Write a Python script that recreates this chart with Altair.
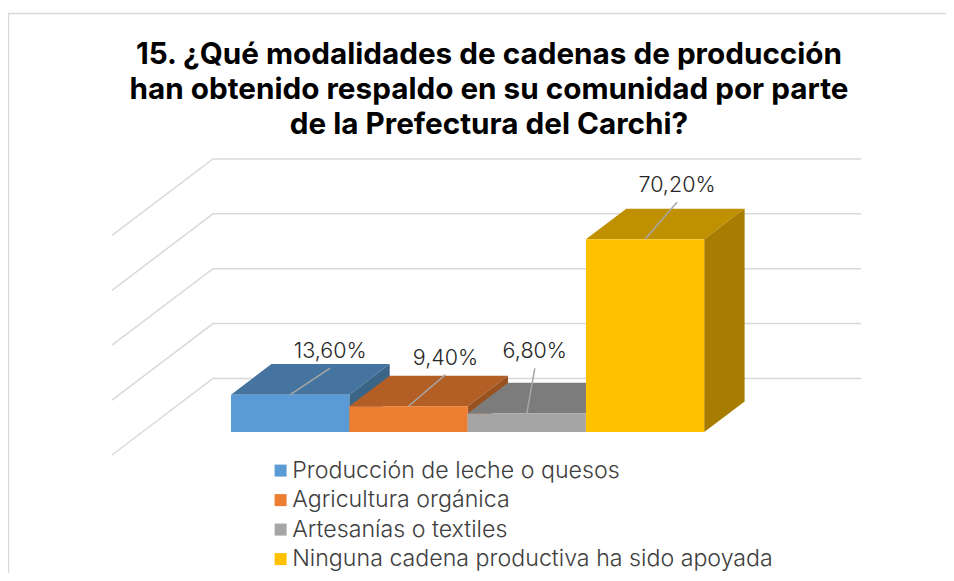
import altair as alt
import pandas as pd

categories = ["Producción de leche o quesos", "Agricultura orgánica", "Artesanías o textiles",
              "Ninguna cadena productiva ha sido apoyada"]
values = [13.6, 9.4, 6.8, 70.2]
front_colors = ["#5B9BD5", "#ED7D31", "#A5A5A5", "#FFC000"]
top_colors = ["#44749F", "#B25E25", "#7C7C7C", "#BF9000"]
side_colors = ["#3B6587", "#9A5120", "#6B6B6B", "#A67D00"]
grid_values = [0, 20, 40, 60, 80]
title_lines = ["15. ¿Qué modalidades de cadenas de producción",
               "han obtenido respaldo en su comunidad por parte",
               "de la Prefectura del Carchi?"]
# leader-line offsets from the bar's top edge (category units, value units)
lead_dx = [0.338, 0.313, 0.068, 0.27]
lead_dy = [9.65, 11.5, 16.4, 13.5]

FONT = "Inter"
W, H = 938, 565
# oblique projection of depth z (0 front of floor, 1 back wall)
ZX, ZY = 0.8538, 27.87
Z0, Z1 = 0.3, 0.7
WALL_L, WALL_R = -0.75, 4.728


def px(x, z):
    return x + z * ZX


def py(v, z):
    return v + z * ZY


xs = alt.Scale(domain=[-1.629, 6.3], nice=False, zero=False)
ys = alt.Scale(domain=[-42.99, 162.84], nice=False, zero=False)
X = alt.X("x:Q", scale=xs, axis=None)
Y = alt.Y("y:Q", scale=ys, axis=None)

# frame
frame = [
    alt.Chart(pd.DataFrame({"a": [0]})).mark_rule(color="#D9D9D9", strokeWidth=1.6).encode(
        x=alt.value(0), x2=alt.value(W), y=alt.value(5.5)),
    alt.Chart(pd.DataFrame({"a": [0]})).mark_rule(color="#D9D9D9", strokeWidth=1.6).encode(
        x=alt.value(0.4), y=alt.value(5), y2=alt.value(H)),
]

# walls / gridlines
rows = []
for g in grid_values:
    rows += [
        {"g": g, "o": 0, "x": px(WALL_L, 0), "y": py(g, 0)},
        {"g": g, "o": 1, "x": px(WALL_L, 1), "y": py(g, 1)},
        {"g": g, "o": 2, "x": px(WALL_R, 1), "y": py(g, 1)},
    ]
grid = alt.Chart(pd.DataFrame(rows)).mark_line(color="#D9D9D9", strokeWidth=1.5).encode(
    x=X, y=Y, detail="g:N", order="o:Q")

color_scale = alt.Scale(domain=categories, range=front_colors)
legend = alt.Legend(
    title=None, orient="none", legendX=261, legendY=451, columns=1, symbolType="square",
    symbolSize=144, symbolStrokeWidth=0, labelFont=FONT, labelFontSize=23.2, labelColor="#404040",
    labelFontWeight=300, labelOffset=0, rowPadding=5.5, labelLimit=600, symbolOpacity=1)

bars = []
for i, (cat, v) in enumerate(zip(categories, values)):
    top = pd.DataFrame({
        "x": [px(i, Z0), px(i, Z1)],
        "x2": [px(i + 1, Z0), px(i + 1, Z1)],
        "y": [py(v, Z0), py(v, Z1)],
    })
    side = pd.DataFrame({
        "x": [px(i + 1, Z0), px(i + 1, Z1)],
        "y": [py(0, Z0), py(0, Z1)],
        "y2": [py(v, Z0), py(v, Z1)],
    })
    front = pd.DataFrame({
        "cat": [cat], "x": [px(i, Z0)], "x2": [px(i + 1, Z0)],
        "y": [py(0, Z0)], "y2": [py(v, Z0)],
    })
    bars.append(alt.Chart(top).mark_area(orient="horizontal", color=top_colors[i]).encode(
        x=X, x2="x2:Q", y=Y))
    bars.append(alt.Chart(side).mark_area(orient="vertical", color=side_colors[i]).encode(
        x=X, y=Y, y2="y2:Q"))
    bars.append(alt.Chart(front).mark_rect().encode(
        x=X, x2="x2:Q", y=Y, y2="y2:Q",
        color=alt.Color("cat:N", scale=color_scale, legend=legend)))

lead_rows = []
label_rows = []
for i, v in enumerate(values):
    sx, sy = px(i + 0.5, Z0), py(v, Z0)
    ex, ey = sx + lead_dx[i], sy + lead_dy[i]
    lead_rows += [{"i": i, "o": 0, "x": sx, "y": sy}, {"i": i, "o": 1, "x": ex, "y": ey}]
    label_rows.append({"x": ex, "y": ey, "t": f"{v:.2f}".replace(".", ",") + "%"})

leaders = alt.Chart(pd.DataFrame(lead_rows)).mark_line(color="#A6A6A6", strokeWidth=1.5).encode(
    x=X, y=Y, detail="i:N", order="o:Q")
labels = alt.Chart(pd.DataFrame(label_rows)).mark_text(
    font=FONT, fontSize=21.5, fontWeight=300, color="#262626", baseline="middle", align="center", dy=-16
).encode(x=X, y=Y, text="t:N")

chart = alt.layer(*frame, grid, *bars, leaders, labels).properties(
    width=W, height=H, padding=0, autosize=alt.AutoSizeParams(type="none"),
    background="white",
    title=alt.TitleParams(
        text=title_lines, anchor="middle", frame="group", baseline="top", font=FONT,
        fontSize=29.7, fontWeight="bold", color="#000000", lineHeight=35, dy=137, dx=12),
).configure_view(stroke=None)

chart.save("out.html", embed_options={"renderer": "svg", "actions": False})
